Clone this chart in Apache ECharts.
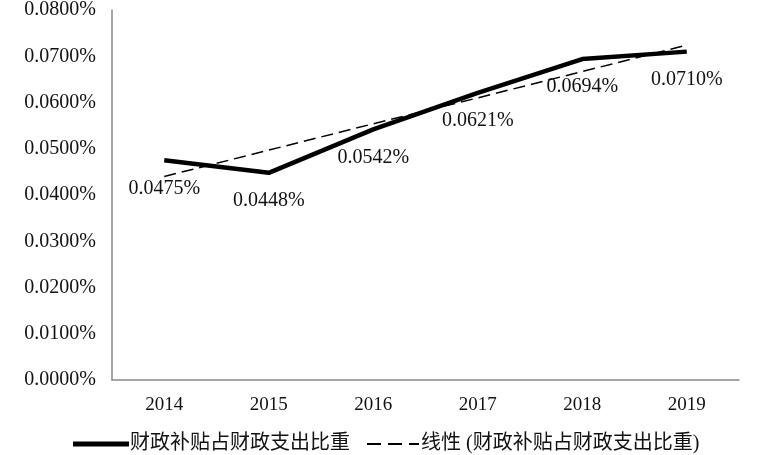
<!DOCTYPE html>
<html><head><meta charset="utf-8">
<script src="https://cdn.jsdelivr.net/npm/echarts@6/dist/echarts.min.js"></script>
<style>html,body{margin:0;padding:0;background:#fff}#c{width:764px;height:455px}</style>
</head><body><div id="c"></div>
<script>
var categories = ['2014','2015','2016','2017','2018','2019'];
var ratioValues = [0.0475, 0.0448, 0.0542, 0.0621, 0.0694, 0.0710];
var trendValues = [0.0440, 0.0497, 0.0554, 0.0610, 0.0667, 0.0724];
var seriesNames = ['财政补贴占财政支出比重', '线性 (财政补贴占财政支出比重)'];

var FONT = '"Liberation Serif", "Noto Sans CJK SC", serif';
var chart = echarts.init(document.getElementById('c'));
chart.setOption({
  animation: false,
  backgroundColor: '#fff',
  textStyle: { fontFamily: FONT },
  grid: { left: 112, right: 25, top: 10, bottom: 75, containLabel: false },
  legend: [
    {
      left: 68, top: 429, itemWidth: 56, itemHeight: 5, itemGap: 0,
      textStyle: { fontFamily: FONT, fontSize: 20, color: '#111', padding: [0, 0, 0, -4] },
      data: [{ name: seriesNames[0], icon: 'rect', itemStyle: { color: '#000' } }]
    },
    {
      left: 362, top: 429, itemWidth: 52, itemHeight: 2, itemGap: 0,
      textStyle: { fontFamily: FONT, fontSize: 20, color: '#111', padding: [0, 0, 0, -3] },
      data: [{ name: seriesNames[1],
        icon: 'path://M0,0 L14,0 L14,2 L0,2 Z M21,0 L35,0 L35,2 L21,2 Z M42,0 L52,0 L52,2 L42,2 Z',
        itemStyle: { color: '#000' } }]
    }
  ],
  xAxis: {
    type: 'category', data: categories, boundaryGap: true,
    axisLine: { lineStyle: { color: '#888', width: 1.5 } },
    axisTick: { show: false },
    axisLabel: { fontFamily: FONT, fontSize: 19, color: '#111', margin: 16 }
  },
  yAxis: {
    type: 'value', min: 0, max: 0.08, interval: 0.01,
    axisLine: { show: true, lineStyle: { color: '#888', width: 1.5 } },
    axisTick: { show: false },
    splitLine: { show: false },
    axisLabel: { fontFamily: FONT, fontSize: 20, color: '#111', margin: 16,
      formatter: function (v) { return v.toFixed(4) + '%'; } }
  },
  series: [
    {
      name: seriesNames[0], type: 'line', data: ratioValues,
      symbol: 'circle', symbolSize: 0.1, showSymbol: true,
      lineStyle: { color: '#000', width: 4.5 },
      itemStyle: { color: '#000' },
      label: { show: true, position: 'bottom', distance: 18, fontFamily: FONT, fontSize: 20, color: '#111',
        formatter: function (p) { return p.value.toFixed(4) + '%'; } },
      z: 3
    },
    {
      name: seriesNames[1], type: 'line', data: trendValues,
      symbol: 'none', lineStyle: { color: '#000', width: 1.5, type: [12, 6] },
      itemStyle: { color: '#000' },
      z: 2
    }
  ]
});
</script></body></html>
